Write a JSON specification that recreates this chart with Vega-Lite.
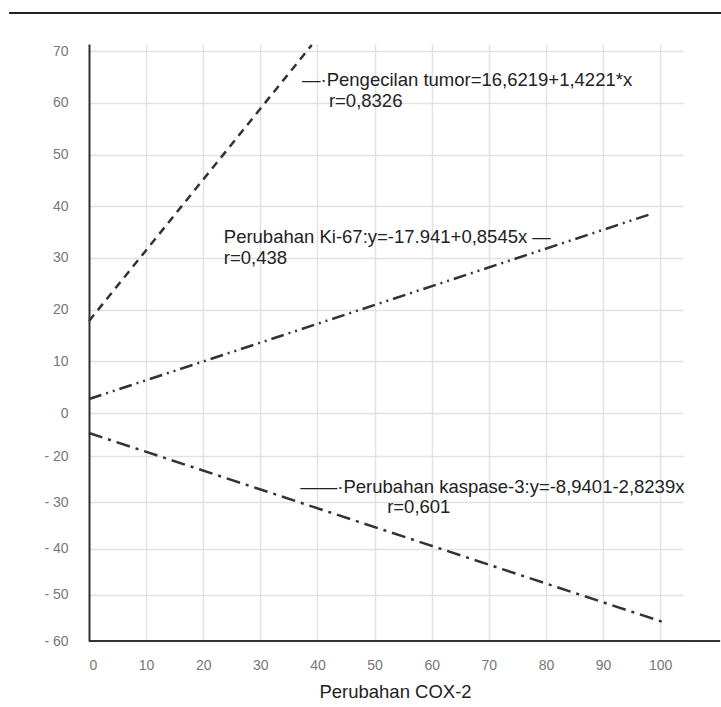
{
  "$schema": "https://vega.github.io/schema/vega-lite/v6.json",
  "width": 594,
  "height": 597,
  "autosize": {"type": "none"},
  "padding": {"left": 89, "top": 44, "right": 38, "bottom": 66},
  "background": "white",
  "config": {
    "view": {"stroke": null},
    "font": "Liberation Sans",
    "axis": {"labelFontSize": 14, "labelColor": "#777777", "ticks": false, "gridColor": "#e2e2e2", "gridWidth": 1.5}
  },
  "datasets": {
    "lines": [
      {"series": "Pengecilan tumor", "x": 0, "y": 17.8},
      {"series": "Pengecilan tumor", "x": 39, "y": 71.2},
      {"series": "Ki-67", "x": 0, "y": 2.7},
      {"series": "Ki-67", "x": 98.4, "y": 38.5},
      {"series": "kaspase-3", "x": 0, "y": -9.3},
      {"series": "kaspase-3", "x": 100.5, "y": -55.9}
    ],
    "labels": [
      {"x": 37.3, "y": 64.4, "text": "—·Pengecilan tumor=16,6219+1,4221*x"},
      {"x": 42.0, "y": 60.4, "text": "r=0,8326"},
      {"x": 23.6, "y": 34.1, "text": "Perubahan Ki-67:y=-17.941+0,8545x —"},
      {"x": 23.6, "y": 30.0, "text": "r=0,438"},
      {"x": 37.0, "y": -26.7, "text": "——·Perubahan kaspase-3:y=-8,9401-2,8239x"},
      {"x": 52.2, "y": -31.0, "text": "r=0,601"}
    ]
  },
  "layer": [
    {
      "data": {"name": "lines"},
      "mark": {"type": "line", "strokeWidth": 2.5, "color": "#333333"},
      "encoding": {
        "x": {
          "field": "x", "type": "quantitative",
          "scale": {"domain": [0, 104], "nice": false, "zero": false},
          "axis": {
            "values": [0, 10, 20, 30, 40, 50, 60, 70, 80, 90, 100],
            "grid": true,
            "domain": false, "ticks": false,
            "labelPadding": 17, "labelFontSize": 14, "labelColor": "#777777",
            "title": "Perubahan COX-2", "titleFontSize": 18.5, "titleFontWeight": "normal",
            "titleColor": "#222222", "titlePadding": 10, "titleX": 306
          }
        },
        "y": {
          "field": "y", "type": "quantitative",
          "scale": {"domain": [-60, -20, 0, 71.4], "range": [597, 412, 369, 0], "nice": false, "zero": false},
          "axis": {
            "values": [-60, -50, -40, -30, -20, 0, 10, 20, 30, 40, 50, 60, 70],
            "labelExpr": "datum.value < 0 ? '- ' + (-datum.value) : '' + datum.value",
            "grid": true,
            "domain": true, "domainColor": "#333333", "domainWidth": 2,
            "ticks": false,
            "labelPadding": 21, "labelFontSize": 14, "labelColor": "#777777",
            "title": null
          }
        },
        "detail": {"field": "series"},
        "strokeDash": {
          "field": "series", "type": "nominal",
          "scale": {
            "domain": ["Pengecilan tumor", "Ki-67", "kaspase-3"],
            "range": [[8, 6], [13, 5, 2, 5, 2, 5], [14, 6, 3, 6]]
          },
          "legend": null
        }
      }
    },
    {
      "data": {"values": [{}]},
      "mark": {"type": "rule", "color": "#333333", "strokeWidth": 2, "clip": false},
      "encoding": {
        "x": {"datum": 0, "type": "quantitative"},
        "x2": {"datum": 110.5},
        "y": {"datum": -60, "type": "quantitative"}
      }
    },
    {
      "data": {"values": [{}]},
      "mark": {"type": "rule", "color": "#222222", "strokeWidth": 2, "clip": false},
      "encoding": {
        "x": {"datum": -14, "type": "quantitative"},
        "x2": {"datum": 111},
        "y": {"datum": 77.4, "type": "quantitative"}
      }
    },
    {
      "data": {"name": "labels"},
      "mark": {"type": "text", "align": "left", "baseline": "middle", "fontSize": 18.5, "color": "#222222"},
      "encoding": {
        "x": {"field": "x", "type": "quantitative"},
        "y": {"field": "y", "type": "quantitative"},
        "text": {"field": "text"}
      }
    }
  ]
}
